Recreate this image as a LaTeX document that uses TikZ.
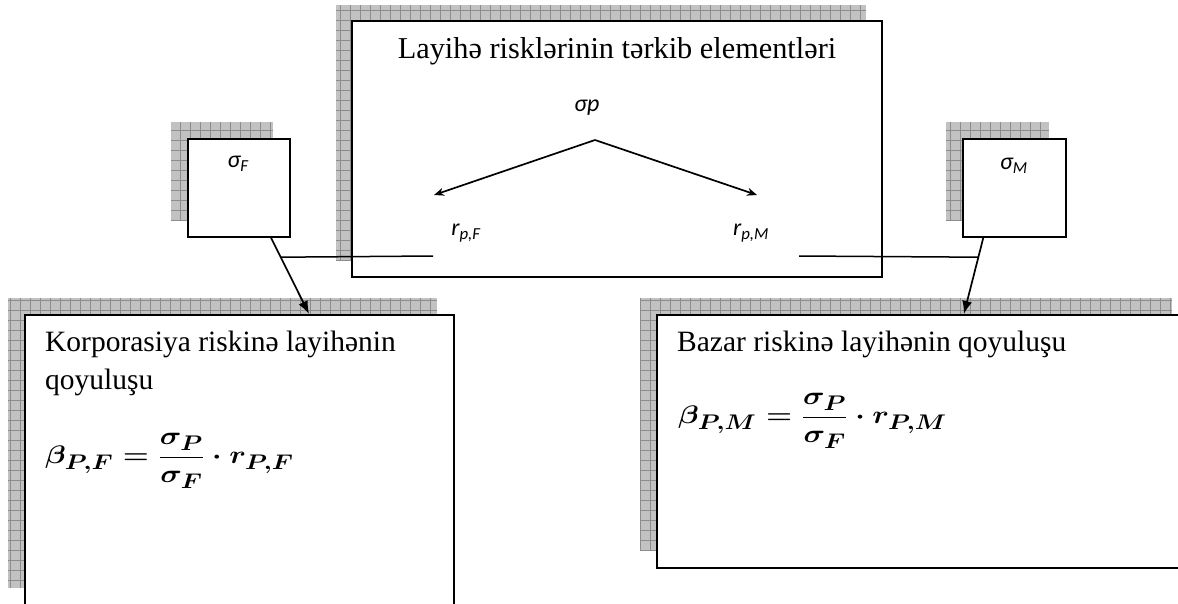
\documentclass[tikz,border=0pt]{standalone}
\usepackage{graphicx}
\usepackage{fontspec}
\setmainfont{Liberation Serif}
\newfontfamily\calib{Carlito}
\usetikzlibrary{arrows.meta,calc}
\newcommand\gridshadow[4]{%
  \begin{scope}
    \clip (#1,#2) rectangle (#3,#4);
    \fill[shadowfill] (#1,#2) rectangle (#3,#4);
    \draw[shadowgrid] (#1,#4) grid (#3,#2);
  \end{scope}}
\newcommand\bigformula[1]{\scalebox{1.2}[1.02]{$\displaystyle #1$}}
\begin{document}
\begin{tikzpicture}[x=1pt,y=-1pt,
  shadowfill/.style={fill=gray!48},
  shadowgrid/.style={draw=gray!90,line width=0.7pt,step=10pt},
  box/.style={draw=black,line width=1.6pt,fill=white,inner sep=0pt,anchor=north west},
  big/.style={font=\fontsize{29.5}{38}\selectfont,inner sep=0pt},
  lbl/.style={font=\calib\itshape\fontsize{24}{28}\selectfont,inner sep=0pt},
  fml/.style={font=\fontsize{24.88}{30}\selectfont\boldmath,inner sep=0pt,anchor=west},
  conn/.style={line width=1.5pt},
  bigarr/.style={line width=1.7pt,-{Latex[length=13pt,width=10pt]}},
  smallarr/.style={line width=1.7pt,-{Stealth[length=10pt,width=8pt]}}]
\clip (0,0) rectangle (1178,603);
% shadows
\gridshadow{336}{5}{866}{261}
\gridshadow{171}{122}{273}{220}
\gridshadow{946}{122}{1049}{220}
\gridshadow{8}{298}{437}{588}
\gridshadow{640}{298}{1172}{551}
% boxes
\node[box,minimum width=530pt,minimum height=256pt] (main) at (351,20) {};
\node[box,minimum width=102pt,minimum height=98pt] (sigF) at (187,138) {};
\node[box,minimum width=103pt,minimum height=98pt] (sigM) at (962,138) {};
\node[box,minimum width=429pt,minimum height=290pt] (corp) at (24,314) {};
\node[box,minimum width=532pt,minimum height=253pt] (mkt) at (656,314) {};
% texts
\node[big,font=\fontsize{30.3}{38}\selectfont,anchor=base] (title) at (617,58) {Layihə risklərinin tərkib elementləri};
\node[big,anchor=base west] (ct1) at (45,351) {Korporasiya riskinə layihənin};
\node[big,anchor=base west] (ct2) at (45,389) {qoyuluşu};
\node[big,anchor=base west] (mt) at (677,351) {Bazar riskinə layihənin qoyuluşu};
\node[fml] (fF) at (45,461) {\bigformula{\beta_{P,F}=\frac{\sigma_P}{\sigma_F}\cdot r_{P,F}}};
\node[fml] (fM) at (678,421) {\bigformula{\beta_{P,M}=\frac{\sigma_P}{\sigma_F}\cdot r_{P,M}}};
\node[lbl] (sp) at (587,108) {σp};
\node[lbl] (rpF) at (466,233) {r\textsubscript{p,F}};
\node[lbl] (rpM) at (751,233) {r\textsubscript{p,M}};
\node[lbl] (sF) at (238,164) {σ\textsubscript{F}};
\node[lbl] (sM) at (1014,166) {σ\textsubscript{M}};
% connectors inside main box
\coordinate (apex) at (595,140);
\coordinate (tipF) at (434,195);
\coordinate (tipM) at (757,195);
\draw[smallarr] (apex) -- (tipF);
\draw[smallarr] (apex) -- (tipM);
% arrows to the lower boxes
\coordinate (aF) at ($(sigF.south west)!0.81!(sigF.south east)$);
\coordinate (bF) at ($(corp.north west)!0.662!(corp.north east)$);
\coordinate (aM) at ($(sigM.south west)!0.204!(sigM.south east)$);
\coordinate (bM) at ($(mkt.north west)!0.577!(mkt.north east)$);
\draw[bigarr] (aF) -- (bF);
\draw[bigarr] (aM) -- (bM);
\coordinate (jF) at ($(aF)!0.2564!(bF)$);
\coordinate (jM) at ($(aM)!0.2564!(bM)$);
\coordinate (lF) at (433,256);
\coordinate (lM) at (799,256);
\draw[conn] (jF) -- (lF);
\draw[conn] (lM) -- (jM);
\end{tikzpicture}
\end{document}
